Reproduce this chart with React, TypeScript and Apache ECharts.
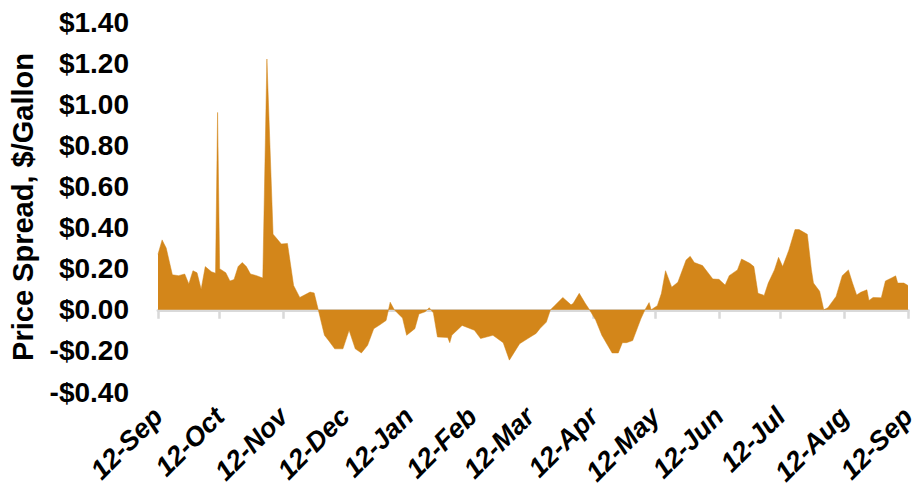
import React, { useEffect, useRef } from "react";
import * as echarts from "echarts";

const dates = [
  "2012-09-12", "2012-09-14", "2012-09-16", "2012-09-19", "2012-09-22", "2012-09-25", "2012-09-27", "2012-09-29",
  "2012-10-01", "2012-10-03", "2012-10-05", "2012-10-08", "2012-10-10", "2012-10-11", "2012-10-12", "2012-10-15",
  "2012-10-17", "2012-10-19", "2012-10-21", "2012-10-23", "2012-10-25", "2012-10-27", "2012-10-30", "2012-11-01",
  "2012-11-02", "2012-11-04", "2012-11-07", "2012-11-09", "2012-11-11", "2012-11-14", "2012-11-17", "2012-11-20",
  "2012-11-25", "2012-11-27", "2012-11-29", "2012-12-02", "2012-12-04", "2012-12-07", "2012-12-11", "2012-12-14",
  "2012-12-17", "2012-12-20", "2012-12-23", "2012-12-26", "2012-12-29", "2013-01-01", "2013-01-03", "2013-01-05",
  "2013-01-07", "2013-01-09", "2013-01-11", "2013-01-15", "2013-01-17", "2013-01-20", "2013-01-22", "2013-01-24",
  "2013-01-26", "2013-01-31", "2013-02-01", "2013-02-02", "2013-02-07", "2013-02-13", "2013-02-16", "2013-02-22",
  "2013-02-27", "2013-03-02", "2013-03-07", "2013-03-11", "2013-03-15", "2013-03-17", "2013-03-20", "2013-03-22",
  "2013-03-24", "2013-03-28", "2013-04-01", "2013-04-02", "2013-04-05", "2013-04-08", "2013-04-10", "2013-04-13",
  "2013-04-16", "2013-04-21", "2013-04-24", "2013-04-26", "2013-04-28", "2013-05-01", "2013-05-05", "2013-05-07",
  "2013-05-09", "2013-05-10", "2013-05-13", "2013-05-15", "2013-05-17", "2013-05-20", "2013-05-23", "2013-05-27",
  "2013-05-29", "2013-05-31", "2013-06-04", "2013-06-09", "2013-06-12", "2013-06-15", "2013-06-17", "2013-06-21",
  "2013-06-23", "2013-06-27", "2013-06-29", "2013-07-01", "2013-07-04", "2013-07-06", "2013-07-09", "2013-07-11",
  "2013-07-13", "2013-07-16", "2013-07-19", "2013-07-21", "2013-07-25", "2013-07-27", "2013-07-28", "2013-07-31",
  "2013-08-02", "2013-08-04", "2013-08-08", "2013-08-11", "2013-08-14", "2013-08-16", "2013-08-18", "2013-08-20",
  "2013-08-23", "2013-08-24", "2013-08-26", "2013-08-30", "2013-09-01", "2013-09-04", "2013-09-06", "2013-09-07",
  "2013-09-10", "2013-09-12",
];

const spread = [
  0.27, 0.34, 0.30, 0.17, 0.166, 0.174, 0.126, 0.19,
  0.18, 0.10, 0.21, 0.185, 0.178, 0.96, 0.20, 0.18,
  0.14, 0.147, 0.21, 0.23, 0.21, 0.174, 0.166, 0.158,
  0.155, 1.22, 0.368, 0.344, 0.32, 0.323, 0.118, 0.06,
  0.086, 0.082, 0.0, -0.124, -0.149, -0.19, -0.19, -0.10,
  -0.19, -0.21, -0.173, -0.092, -0.073, -0.052, 0.037, 0.0,
  -0.02, -0.04, -0.124, -0.092, -0.02, -0.01, 0.01, -0.015,
  -0.132, -0.135, -0.16, -0.124, -0.076, -0.10, -0.14, -0.124,
  -0.16, -0.245, -0.165, -0.14, -0.115, -0.09, -0.06, 0.0,
  0.02, 0.06, 0.024, 0.03, 0.08, 0.03, 0.0, -0.05,
  -0.124, -0.21, -0.21, -0.16, -0.16, -0.15, -0.044, 0.0,
  0.035, 0.0, 0.02, 0.08, 0.19, 0.11, 0.134, 0.242,
  0.26, 0.23, 0.215, 0.15, 0.148, 0.12, 0.166, 0.194,
  0.247, 0.226, 0.21, 0.08, 0.07, 0.13, 0.194, 0.255,
  0.21, 0.29, 0.39, 0.39, 0.367, 0.194, 0.13, 0.09,
  0.0, 0.01, 0.065, 0.166, 0.194, 0.13, 0.072, 0.085,
  0.097, 0.045, 0.06, 0.058, 0.14, 0.155, 0.165, 0.13,
  0.13, 0.118,
];

const startDate = "2012-09-12";
const endDate = "2013-09-12";
const monthNames = ["Jan", "Feb", "Mar", "Apr", "May", "Jun", "Jul", "Aug", "Sep", "Oct", "Nov", "Dec"];
const yMin = -0.4;
const yMax = 1.4;
const yStep = 0.2;

function buildDays(a: string, b: string): string[] {
  const out: string[] = [];
  const t0 = Date.parse(a + "T00:00:00Z");
  const t1 = Date.parse(b + "T00:00:00Z");
  for (let t = t0; t <= t1; t += 86400000) {
    out.push(new Date(t).toISOString().slice(0, 10));
  }
  return out;
}

const FONT = "'Liberation Sans', Arial, sans-serif";
const ORANGE = "#D3861A";
const AXIS_GRAY = "#D9D9D9";

export default function App() {
  const ref = useRef<HTMLDivElement>(null);
  useEffect(() => {
    if (!ref.current) return;
    const chart = echarts.init(ref.current, undefined, { renderer: "svg" });
    const days = buildDays(startDate, endDate);
    const isTick = (_i: number, v: string) => v.slice(8, 10) === "12";
    chart.setOption({
      animation: false,
      backgroundColor: "#ffffff",
      grid: { left: 157, right: 12, top: 22, bottom: 104, containLabel: false },
      xAxis: [
        {
          type: "category",
          data: days,
          boundaryGap: false,
          position: "bottom",
          axisLine: { show: true, onZero: true, lineStyle: { color: AXIS_GRAY, width: 3 } },
          axisTick: { show: true, interval: isTick, length: 9, lineStyle: { color: AXIS_GRAY, width: 2.5 } },
          axisLabel: { show: false },
          splitLine: { show: false },
        },
        {
          type: "category",
          data: days,
          boundaryGap: false,
          position: "bottom",
          axisLine: { show: false, onZero: false },
          axisTick: { show: false },
          splitLine: { show: false },
          axisLabel: {
            show: true,
            interval: isTick,
            rotate: 45,
            margin: 20,
            fontFamily: FONT,
            fontWeight: "bold",
            fontStyle: "italic",
            fontSize: 27,
            color: "#000000",
            formatter: (v: string) => "12-" + monthNames[parseInt(v.slice(5, 7), 10) - 1],
          },
        },
      ],
      yAxis: {
        type: "value",
        min: yMin,
        max: yMax,
        interval: yStep,
        name: "Price Spread, $/Gallon",
        nameLocation: "middle",
        nameGap: 121,
        nameTextStyle: { fontFamily: FONT, fontWeight: "bold", fontSize: 29, color: "#000000" },
        axisLine: { show: false },
        axisTick: { show: false },
        splitLine: { show: false },
        axisLabel: {
          margin: 29,
          fontFamily: FONT,
          fontWeight: "bold",
          fontSize: 28,
          color: "#000000",
          formatter: (v: number) => {
            const r = Math.round(v * 100) / 100;
            return (r < 0 ? "-$" : "$") + Math.abs(r).toFixed(2);
          },
        },
      },
      series: [
        {
          type: "line",
          xAxisIndex: 0,
          data: dates.map((d, i) => [d, spread[i]]),
          showSymbol: false,
          symbol: "none",
          lineStyle: { width: 0.5, color: ORANGE },
          areaStyle: { color: ORANGE, opacity: 1, origin: 0 },
          z: 1,
        },
      ],
    });
    return () => chart.dispose();
  }, []);
  return <div ref={ref} style={{ position: "absolute", left: 0, top: 0, width: 920, height: 496 }} />;
}
